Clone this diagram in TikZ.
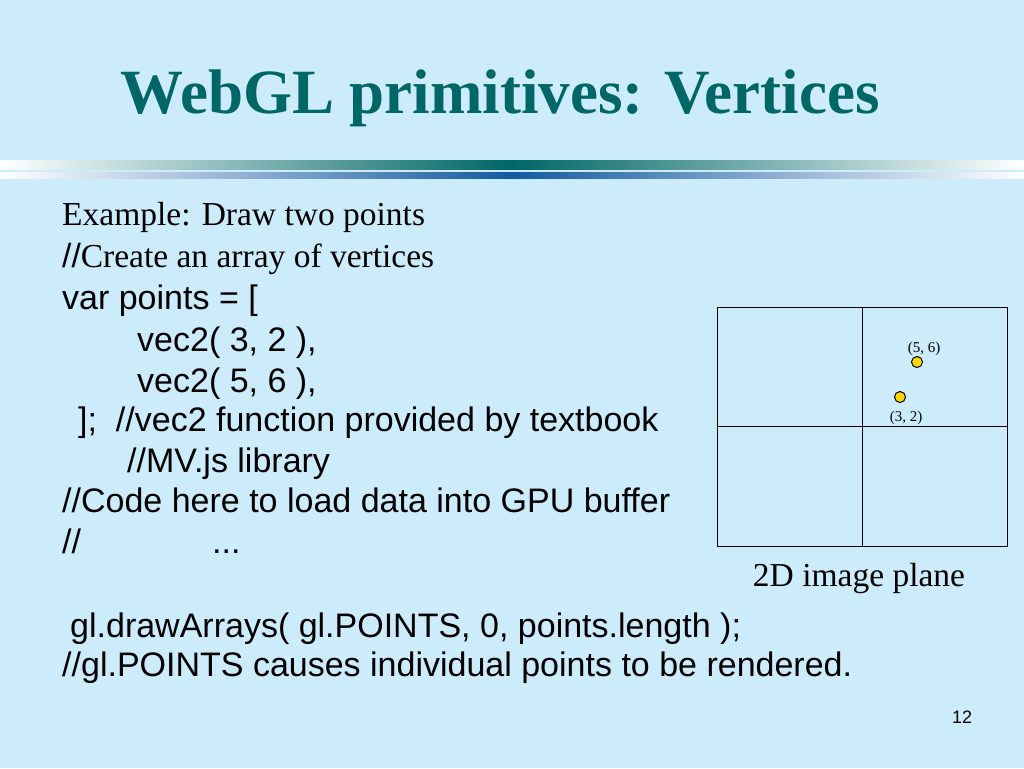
\documentclass[tikz,border=0pt]{standalone}
\usepackage{fontspec}
\setmainfont{Liberation Serif}
\setsansfont{Liberation Sans}
\begin{document}
\begin{tikzpicture}[x=1pt,y=-1pt,
  code/.style={anchor=base west,font=\sffamily\fontsize{34}{34}\selectfont,inner sep=0},
  ser/.style={anchor=base west,font=\rmfamily\fontsize{33.5}{34}\selectfont,inner sep=0},
  pt/.style={circle,draw=black,fill=yellow!75!orange,inner sep=0,minimum size=11pt,line width=1pt},
  lab/.style={font=\rmfamily\fontsize{15}{15}\selectfont,inner sep=0}]
\definecolor{bg}{RGB}{204,236,252}
\definecolor{tealc}{RGB}{0,102,102}
\definecolor{bluec}{RGB}{20,90,160}
\fill[bg] (0,0) rectangle (1024,768);
\useasboundingbox (0,0) rectangle (1024,768);
\node[font=\rmfamily\bfseries\fontsize{63}{63}\selectfont,text=tealc,inner sep=0] (title) at (500,98) {WebGL primitives: Vertices};
\shade[left color=white,right color=tealc] (0,160) rectangle (512,169);
\shade[left color=tealc,right color=white] (512,160) rectangle (1024,169);
\shade[left color=white,right color=bluec] (0,172) rectangle (512,178);
\shade[left color=bluec,right color=white] (512,172) rectangle (1024,178);
\node[ser] (l1) at (62,225) {Example: Draw two points};
\node[ser] (l2) at (62,267) {{\sffamily//}Create an array of vertices};
\node[code] (l3) at (62,309) {var points = [};
\node[code] (l4) at (137,351) {vec2( 3, 2 ),};
\node[code] (l5) at (137,392) {vec2( 5, 6 ),};
\node[code] (l6) at (78,431) {];\ \ //vec2 function provided by textbook};
\node[code] (l7) at (127,472) {//MV.js library};
\node[code] (l8) at (62,512) {//Code here to load data into GPU buffer};
\node[code] (l9) at (62,553) {//};
\node[code] (l9b) at (212,553) {...};
\node[code] (l10) at (70,637) {gl.drawArrays( gl.POINTS, 0, points.length );};
\node[code] (l11) at (62,676) {//gl.POINTS causes individual points to be rendered.};
\draw[line width=1pt] (717,307) rectangle (1007,546);
\draw[line width=1pt] (862,307) -- (862,546);
\draw[line width=1pt] (717,426) -- (1007,426);
\node[pt] (p56) at (917,362) {};
\node[pt] (p32) at (900,397) {};
\node[lab] (t56) at (924,349) {(5, 6)};
\node[lab] (t32) at (906,418) {(3, 2)};
\node[font=\rmfamily\fontsize{33.5}{34}\selectfont,inner sep=0] (cap) at (859,578) {2D image plane};
\node[font=\sffamily\fontsize{18}{18}\selectfont,inner sep=0] (num) at (962,717) {12};
\end{tikzpicture}
\end{document}
